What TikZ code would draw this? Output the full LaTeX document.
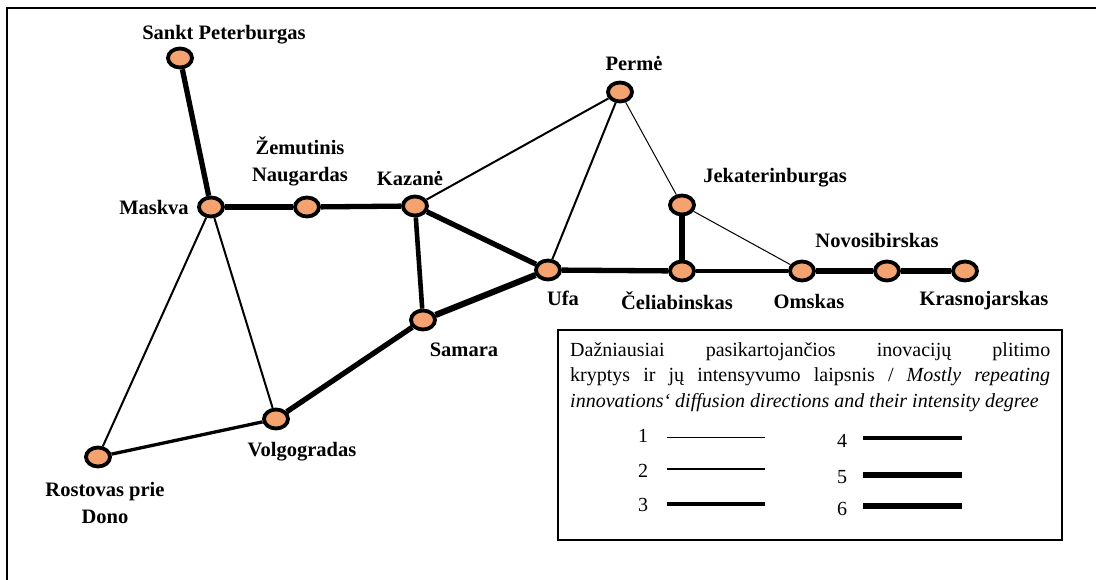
\documentclass[tikz,border=0pt]{standalone}
\usepackage{fontspec}
\setmainfont{Liberation Serif}
\usetikzlibrary{shapes.geometric}
\definecolor{cityfill}{RGB}{244,163,112}

\begin{document}
\begin{tikzpicture}[x=1pt,y=-1pt,
  city/.style={ellipse,draw,line width=3.8pt,fill=cityfill,minimum width=24pt,minimum height=19pt,inner sep=0pt},
  lbl/.style={font=\fontsize{20.5}{27}\selectfont\bfseries,align=center,inner sep=0pt},
  num/.style={font=\fontsize{20}{22}\selectfont,inner sep=0pt},
  d1/.style={line width=1pt},
  d2/.style={line width=2pt},
  d3/.style={line width=3.3pt},
  d4/.style={line width=4.6pt},
  d5/.style={line width=5.3pt},
  d6/.style={line width=6.2pt}]
\useasboundingbox (0,0) rectangle (1096,580);
\clip (0,0) rectangle (1096,580);
\draw[line width=1.5pt] (7,600)--(7,8)--(1110,8);

% cities
\node[city] (spb) at (180,58) {};
\node[city] (msk) at (211,207) {};
\node[city] (zn) at (307,207) {};
\node[city] (kaz) at (415,206) {};
\node[city] (per) at (620,92) {};
\node[city] (ufa) at (548,270) {};
\node[city] (sam) at (423,320) {};
\node[city] (vol) at (276,419) {};
\node[city] (ros) at (98,457) {};
\node[city] (jek) at (682,205) {};
\node[city] (cel) at (682,271) {};
\node[city] (oms) at (802,271) {};
\node[city] (nov) at (887,271) {};
\node[city] (kra) at (965,271) {};

% city names
\node[lbl] (spbt) at (224,35) {Sankt Peterburgas};
\node[lbl] (mskt) at (154,207) {Maskva};
\node[lbl] (znt) at (300,161) {Žemutinis\\Naugardas};
\node[lbl] (kazt) at (410,178) {Kazanė};
\node[lbl] (pert) at (634,63) {Permė};
\node[lbl] (ufat) at (563,298) {Ufa};
\node[lbl] (samt) at (464,350) {Samara};
\node[lbl] (volt) at (302,452) {Volgogradas};
\node[lbl] (rost) at (105,503) {Rostovas prie\\Dono};
\node[lbl] (jekt) at (775,178) {Jekaterinburgas};
\node[lbl] (celt) at (677,301) {Čeliabinskas};
\node[lbl] (omst) at (809,301) {Omskas};
\node[lbl] (novt) at (877,240) {Novosibirskas};
\node[lbl] (krat) at (984,301) {Krasnojarskas};

% directions
\draw[d5] (spb)--(msk);
\draw[d5] (msk)--(zn);
\draw[d5] (zn)--(kaz);
\draw[d2] (msk)--(ros);
\draw[d2] (msk)--(vol);
\draw[d3] (ros)--(vol);
\draw[d5] (vol)--(sam);
\draw[d6] (sam)--(ufa);
\draw[d4] (kaz)--(sam);
\draw[d5] (kaz)--(ufa);
\draw[d2] (kaz)--(per);
\draw[d2] (ufa)--(per);
\draw[d1] (per)--(jek);
\draw[d1] (jek)--(oms);
\draw[d5] (jek)--(cel);
\draw[d5] (ufa)--(cel);
\draw[d3] (cel)--(oms);
\draw[d5] (oms)--(nov);
\draw[d5] (nov)--(kra);

% legend
\draw[line width=1.5pt] (558,330) rectangle (1062,540);
\node[anchor=north west,inner sep=0pt,text width=480pt,align=justify,
  font=\fontsize{20}{25.5}\selectfont] (leg) at (570,342)
  {Dažniausiai pasikartojančios inovacijų plitimo\linebreak
   kryptys ir jų intensyvumo laipsnis / \textit{Mostly repeating}\linebreak
   \mbox{\textit{innovations‘ diffusion directions and their intensity degree}}};
\node[num] (n1) at (643,436) {1};
\node[num] (n2) at (643,471) {2};
\node[num] (n3) at (643,505) {3};
\node[num] (n4) at (842,441) {4};
\node[num] (n5) at (842,477) {5};
\node[num] (n6) at (842,509) {6};
\draw[d1] (667,437)--(765,437);
\draw[d2] (667,469)--(765,469);
\draw[d3] (667,504)--(765,504);
\draw[d4] (863,438)--(962,438);
\draw[d5] (863,475)--(962,475);
\draw[d6] (863,506)--(962,506);
\end{tikzpicture}
\end{document}
